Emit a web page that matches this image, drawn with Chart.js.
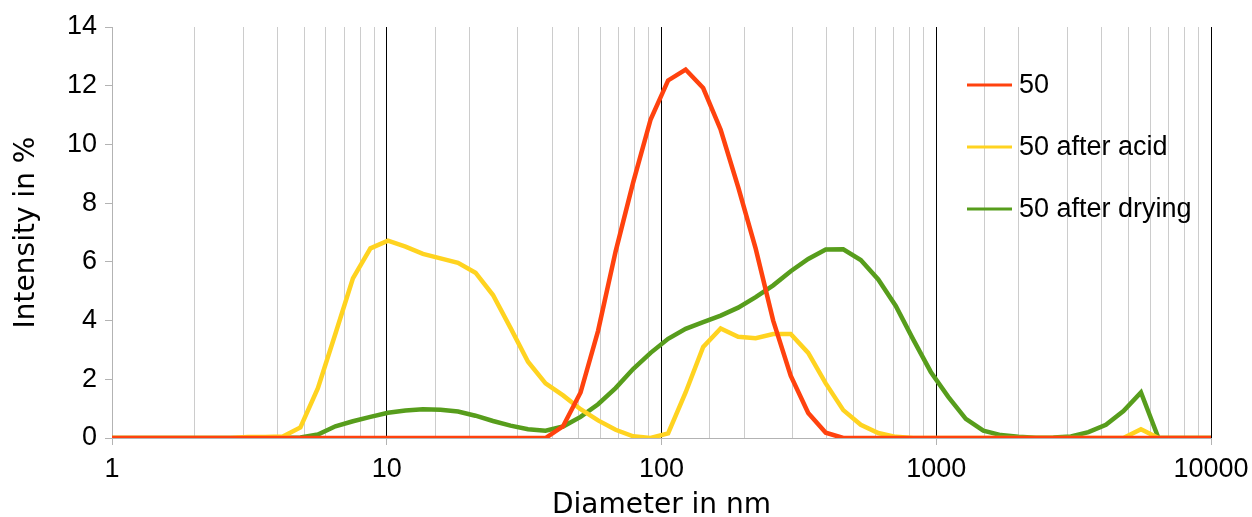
<!DOCTYPE html>
<html>
<head>
<meta charset="utf-8">
<title>Size distribution</title>
<script src="https://cdn.jsdelivr.net/npm/chart.js@4.4.1/dist/chart.umd.min.js"></script>
<style>
  html, body { margin: 0; padding: 0; background: #fff; }
  #wrap { width: 1252px; height: 517px; }
</style>
</head>
<body>
<div id="wrap"><canvas id="chart" width="1252" height="517"></canvas></div>
<script>
// size bins (nm)
const diameters = [
  0.4, 0.4632, 0.5365, 0.6213, 0.7195, 0.8332, 0.965, 1.117, 1.294, 1.499,
  1.736, 2.01, 2.328, 2.696, 3.122, 3.615, 4.187, 4.849, 5.615, 6.503,
  7.531, 8.721, 10.1, 11.7, 13.54, 15.69, 18.17, 21.04, 24.36, 28.21,
  32.67, 37.84, 43.82, 50.75, 58.77, 68.06, 78.82, 91.28, 105.7, 122.4,
  141.8, 164.2, 190.1, 220.2, 255, 295.3, 342, 396.1, 458.7, 531.2,
  615.1, 712.4, 825, 955.4, 1106, 1281, 1484, 1718, 1990, 2305,
  2669, 3091, 3580, 4145, 4801, 5560, 6439, 7456, 8635, 10000
];

// intensity in %
const sample50 = [
  0, 0, 0, 0, 0, 0, 0, 0, 0, 0,
  0, 0, 0, 0, 0, 0, 0, 0, 0, 0,
  0, 0, 0, 0, 0, 0, 0, 0, 0, 0,
  0, 0, 0.4, 1.55, 3.65, 6.35, 8.7, 10.85, 12.18, 12.55,
  11.92, 10.5, 8.55, 6.45, 4.0, 2.12, 0.85, 0.18, 0, 0,
  0, 0, 0, 0, 0, 0, 0, 0, 0, 0,
  0, 0, 0, 0, 0, 0, 0, 0, 0, 0
];

const afterAcid = [
  0, 0, 0, 0, 0, 0, 0, 0, 0, 0,
  0, 0, 0, 0, 0.03, 0.03, 0.05, 0.36, 1.7, 3.55,
  5.44, 6.46, 6.72, 6.52, 6.27, 6.12, 5.97, 5.63, 4.87, 3.75,
  2.6, 1.86, 1.45, 0.98, 0.6, 0.28, 0.06, 0, 0.16, 1.55,
  3.1, 3.73, 3.45, 3.4, 3.54, 3.54, 2.9, 1.86, 0.95, 0.45,
  0.17, 0.04, 0, 0, 0, 0, 0, 0, 0, 0,
  0, 0, 0, 0, 0, 0.3, 0, 0, 0, 0
];

const afterDrying = [
  0, 0, 0, 0, 0, 0, 0, 0, 0, 0,
  0, 0, 0, 0, 0, 0, 0, 0.02, 0.12, 0.4,
  0.57, 0.72, 0.86, 0.94, 0.98, 0.96, 0.9, 0.76, 0.58, 0.42,
  0.3, 0.25, 0.39, 0.72, 1.15, 1.7, 2.35, 2.9, 3.38, 3.72,
  3.95, 4.17, 4.44, 4.8, 5.2, 5.68, 6.1, 6.42, 6.43, 6.06,
  5.4, 4.5, 3.35, 2.25, 1.4, 0.65, 0.25, 0.1, 0.04, 0.01,
  0.02, 0.05, 0.2, 0.45, 0.92, 1.55, 0, 0, 0, 0
];

const seriesNames = ['50', '50 after acid', '50 after drying'];
const seriesColors = ['#ff420e', '#ffd320', '#579d1c'];

const toPoints = values => values.map((v, i) => ({ x: diameters[i], y: v }));

const isDecade = v => {
  const e = Math.log10(v);
  return Math.abs(e - Math.round(e)) < 1e-9;
};

// legend drawn inside the plot area, on the right
const innerLegend = {
  id: 'innerLegend',
  afterDatasetsDraw(chart) {
    const { ctx, chartArea } = chart;
    const x0 = chartArea.right - 244;
    ctx.save();
    ctx.font = '27px "Liberation Sans", Arial, sans-serif';
    ctx.textBaseline = 'middle';
    ctx.fillStyle = '#000';
    chart.data.datasets.forEach((ds, i) => {
      const y = chartArea.top + 58 + i * 62;
      ctx.strokeStyle = ds.borderColor;
      ctx.lineWidth = 3;
      ctx.beginPath();
      ctx.moveTo(x0, y);
      ctx.lineTo(x0 + 45, y);
      ctx.stroke();
      ctx.fillText(ds.label, x0 + 52, y + 1);
    });
    ctx.restore();
  }
};

const datasets = [sample50, afterAcid, afterDrying].map((values, i) => ({
  label: seriesNames[i],
  data: toPoints(values),
  borderColor: seriesColors[i],
  backgroundColor: seriesColors[i],
  borderWidth: 4.5,
  pointRadius: 0,
  tension: 0,
  fill: false
}));

new Chart(document.getElementById('chart'), {
  type: 'line',
  data: { datasets },
  options: {
    responsive: false,
    animation: false,
    devicePixelRatio: 1,
    layout: { padding: { top: 27, right: 41, left: 0, bottom: 0 } },
    plugins: {
      legend: { display: false },
      tooltip: { enabled: false }
    },
    scales: {
      x: {
        type: 'logarithmic',
        min: 1,
        max: 10000,
        afterFit: s => {
          s.height = 79;
          s.paddingLeft = 0;
          s.paddingRight = 0;
        },
        border: { color: '#b3b3b3', width: 1 },
        grid: {
          color: c => {
            const v = c.tick && c.tick.value;
            if (v === 1) return '#b3b3b3';
            return isDecade(v) ? '#000' : '#cccccc';
          },
          tickColor: c => (c.tick && isDecade(c.tick.value) ? '#b3b3b3' : 'rgba(0,0,0,0)'),
          tickLength: 7,
          lineWidth: 1
        },
        ticks: {
          autoSkip: false,
          maxRotation: 0,
          padding: 8,
          color: '#000',
          font: { family: '"Liberation Sans", Arial, sans-serif', size: 27 },
          callback: v => (isDecade(v) ? String(Math.round(v)) : '')
        },
        title: {
          display: true,
          text: 'Diameter in nm',
          color: '#000',
          font: { family: '"DejaVu Sans", sans-serif', size: 28 },
          padding: { top: 0, bottom: -6 }
        }
      },
      y: {
        min: 0,
        max: 14,
        afterFit: s => { s.width = 112; },
        border: { color: '#b3b3b3', width: 1 },
        grid: {
          drawOnChartArea: false,
          drawTicks: true,
          tickLength: 7,
          tickColor: '#b3b3b3'
        },
        ticks: {
          stepSize: 2,
          padding: 8,
          color: '#000',
          font: { family: '"Liberation Sans", Arial, sans-serif', size: 27 }
        },
        title: {
          display: true,
          text: 'Intensity in %',
          color: '#000',
          font: { family: '"DejaVu Sans", sans-serif', size: 28 },
          padding: { top: 10, bottom: 0 }
        }
      }
    }
  },
  plugins: [innerLegend]
});
</script>
</body>
</html>
